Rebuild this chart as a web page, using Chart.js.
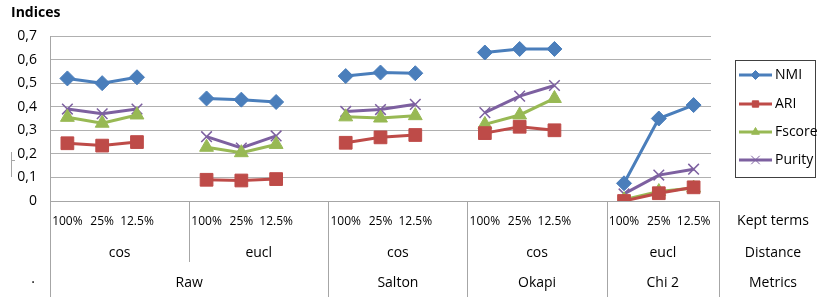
<!DOCTYPE html>
<html>
<head>
<meta charset="utf-8">
<script src="https://cdn.jsdelivr.net/npm/chart.js@4/dist/chart.umd.min.js"></script>
<style>
html,body{margin:0;padding:0;background:#fff;}
#wrap{width:817px;height:297px;position:relative;}
</style>
</head>
<body>
<div id="wrap"><canvas id="c" width="817" height="297"></canvas></div>
<script>
// ---- data ----
const keptTerms = ['100%', '25%', '12.5%'];
const distances = ['cos', 'eucl', 'cos', 'cos', 'eucl'];
const metrics = ['Raw', 'Salton', 'Okapi', 'Chi 2'];
const metricGroupCounts = [2, 1, 1, 1];
const seriesNames = ['NMI', 'ARI', 'Fscore', 'Purity'];

const nmi    = [0.52, 0.50, 0.525,  0.435, 0.43, 0.42,   0.53, 0.545, 0.542,  0.63, 0.645, 0.645,  0.075, 0.35, 0.407];
const ari    = [0.245, 0.235, 0.25, 0.09, 0.087, 0.093,  0.247, 0.27, 0.28,   0.288, 0.315, 0.30,  0.0, 0.033, 0.058];
const fscore = [0.355, 0.33, 0.365, 0.228, 0.205, 0.24,  0.357, 0.352, 0.362, 0.325, 0.365, 0.435, 0.005, 0.04, 0.055];
const purity = [0.39, 0.37, 0.39,   0.273, 0.225, 0.276, 0.38, 0.388, 0.41,   0.375, 0.445, 0.49,  0.03, 0.11, 0.135];

const yTicks = ['0', '0,1', '0,2', '0,3', '0,4', '0,5', '0,6', '0,7'];
const yAxisTitle = 'Indices';
const levelNames = ['Kept terms', 'Distance', 'Metrics'];

// ---- build categories with a gap slot after each distance group ----
const categories = [];
distances.forEach((d, gi) => {
  keptTerms.forEach(k => categories.push(k));
  if (gi < distances.length - 1) categories.push('');
});
function withGaps(vals) {
  const out = [];
  let i = 0;
  distances.forEach((d, gi) => {
    keptTerms.forEach(() => out.push(vals[i++]));
    if (gi < distances.length - 1) out.push(null);
  });
  return out;
}

const FONT = "'Open Sans', 'DejaVu Sans', sans-serif";
const colors = ['#4A7EBB', '#BE4B48', '#98B954', '#7D60A0'];
const styles = ['rectRot', 'rect', 'triangle', 'crossRot'];
const radii = [7.5, 9, 8, 7.5];
const values = [nmi, ari, fscore, purity];

const datasets = seriesNames.map((n, i) => ({
  label: n,
  data: withGaps(values[i]),
  borderColor: colors[i],
  backgroundColor: colors[i],
  borderWidth: 3,
  pointStyle: styles[i],
  pointRadius: radii[i],
  pointBorderWidth: i === 3 ? 1.5 : 1,
  pointBorderColor: colors[i],
  pointBackgroundColor: colors[i],
  tension: 0,
  spanGaps: false
}));

const EXTRA_RIGHT = 8; // category box extends past gridlines

const decor = {
  id: 'decor',
  afterDraw(chart) {
    const ctx = chart.ctx;
    const x = chart.scales.x, ca = chart.chartArea;
    const H = chart.height;
    const rightEdge = ca.right + EXTRA_RIGHT;
    ctx.save();
    ctx.strokeStyle = '#a6a6a6';
    ctx.lineWidth = 1;
    // extend bottom axis line
    ctx.beginPath();
    ctx.moveTo(ca.right, Math.round(ca.bottom) + 0.5);
    ctx.lineTo(rightEdge, Math.round(ca.bottom) + 0.5);
    ctx.stroke();
    // left axis line down to bottom
    const vline = (px, y1, y2) => {
      ctx.beginPath();
      ctx.moveTo(Math.round(px) + 0.5, y1);
      ctx.lineTo(Math.round(px) + 0.5, y2);
      ctx.stroke();
    };
    vline(ca.left, ca.bottom, H);
    vline(rightEdge, ca.bottom, H);
    // group boundaries
    let gi = 0;
    const groupStart = [], groupEnd = [];
    distances.forEach((d, i) => {
      groupStart.push(i === 0 ? ca.left : x.getPixelForValue(4 * i - 0.5));
      groupEnd.push(i === distances.length - 1 ? rightEdge : x.getPixelForValue(4 * i + 3.5));
    });
    // metric spans
    const metricStart = [], metricEnd = [];
    let g = 0;
    metricGroupCounts.forEach((cnt) => {
      metricStart.push(groupStart[g]);
      metricEnd.push(groupEnd[g + cnt - 1]);
      g += cnt;
    });
    // distance dividers (short) and metric dividers (full)
    const metricEdges = new Set(metricEnd.map(v => Math.round(v)));
    for (let i = 0; i < distances.length - 1; i++) {
      const px = groupEnd[i];
      if (metricEdges.has(Math.round(px))) vline(px, ca.bottom, H);
      else vline(px, ca.bottom, ca.bottom + 61);
    }
    // texts
    ctx.fillStyle = '#000';
    ctx.textAlign = 'center';
    ctx.textBaseline = 'middle';
    ctx.font = '14px ' + FONT;
    distances.forEach((d, i) => ctx.fillText(d, (groupStart[i] + groupEnd[i]) / 2, 253));
    metrics.forEach((m, i) => ctx.fillText(m, (metricStart[i] + metricEnd[i]) / 2, 283));
    ctx.fillText(levelNames[0], 773, 221);
    ctx.fillText(levelNames[1], 773, 253);
    ctx.fillText(levelNames[2], 773, 283);
    ctx.fillText('·', 33, 283);
    // axis title
    ctx.textAlign = 'left';
    ctx.font = 'bold 14px ' + FONT;
    ctx.fillText(yAxisTitle, 11, 13);
    // stray mark at left
    ctx.strokeStyle = '#a6a6a6';
    vline(11, 152, 177);
    ctx.beginPath();
    ctx.moveTo(11, 160.5); ctx.lineTo(15, 160.5); ctx.stroke();
    // legend
    const lx = 735.5, ly = 60.5, lw = 80, lh = 117;
    ctx.strokeStyle = '#404040';
    ctx.lineWidth = 1;
    ctx.strokeRect(lx, ly, lw, lh);
    const ys = [75, 104, 132, 160];
    chart.data.datasets.forEach((ds, i) => {
      const yy = ys[i];
      ctx.strokeStyle = ds.borderColor;
      ctx.lineWidth = 3;
      ctx.beginPath();
      ctx.moveTo(739, yy); ctx.lineTo(772, yy); ctx.stroke();
      if (Chart.helpers && Chart.helpers.drawPoint) {
        ctx.fillStyle = ds.borderColor;
        ctx.strokeStyle = ds.borderColor;
        ctx.lineWidth = 1;
        Chart.helpers.drawPoint(ctx, {pointStyle: ds.pointStyle, radius: i === 3 ? 6 : 4.5, borderWidth: 1}, 755.5, yy);
      }
      ctx.fillStyle = '#000';
      ctx.font = '14px ' + FONT;
      ctx.textAlign = 'left';
      ctx.fillText(ds.label, 775, yy);
    });
    ctx.restore();
  }
};

new Chart(document.getElementById('c'), {
  type: 'line',
  data: { labels: categories, datasets },
  options: {
    responsive: false,
    animation: false,
    devicePixelRatio: 1,
    layout: { padding: { top: 36, right: 817 - 711, left: 0, bottom: 0 } },
    plugins: { legend: { display: false }, tooltip: { enabled: false } },
    scales: {
      x: {
        type: 'category',
        offset: true,
        grid: { display: false, drawTicks: false },
        border: { display: true, color: '#a6a6a6', width: 1 },
        ticks: { autoSkip: false, maxRotation: 0, minRotation: 0, padding: 13, color: '#000', font: { family: FONT, size: 12 } },
        afterFit(s) { s.height = 96; }
      },
      y: {
        min: 0, max: 0.7,
        ticks: {
          stepSize: 0.1, padding: 13, color: '#000',
          font: { family: FONT, size: 14 },
          callback: (v) => yTicks[Math.round(v * 10)]
        },
        grid: { color: '#b0b0b0', drawTicks: false, lineWidth: 1 },
        border: { display: true, color: '#a6a6a6' },
        afterFit(s) { s.width = 50; }
      }
    }
  },
  plugins: [decor]
});
</script>
</body>
</html>
